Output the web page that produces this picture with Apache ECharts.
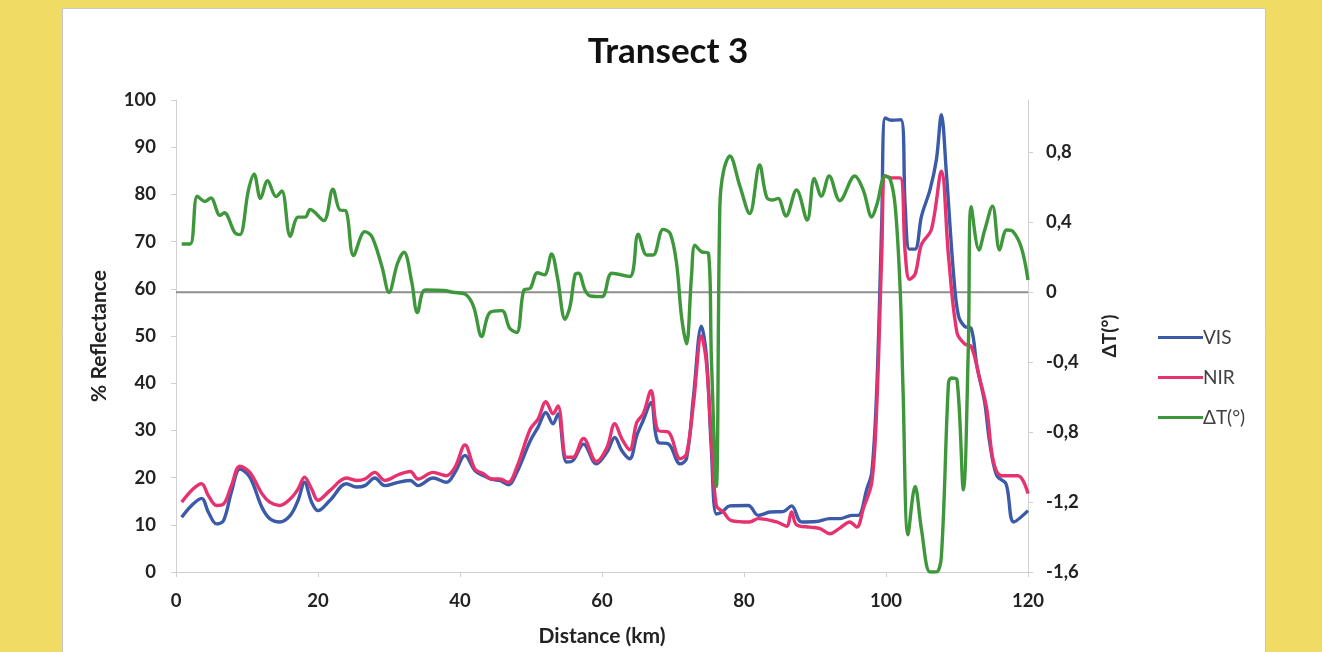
<!DOCTYPE html>
<html>
<head>
<meta charset="utf-8">
<script src="https://cdn.jsdelivr.net/npm/echarts@6/dist/echarts.min.js"></script>
<style>
html,body{margin:0;padding:0;background:#F0DC64;}
#chart{width:1322px;height:652px;}
</style>
</head>
<body>
<div id="chart"></div>
<script>
// ---- data (km, value) ----
const xTicks = [0, 20, 40, 60, 80, 100, 120];
const visData = [
[0.8,11.6],[2.2,14.1],[3.6,15.6],[4.55,12.7],[5.7,10.2],[6.7,10.9],[7.8,16.9],[9,21.8],[10.4,20.1],[12.1,13.7],[13.2,11.3],[14.6,10.6],[16.1,12],[17.2,15.2],[18.1,19],[19.1,14.8],[20,13],[21.7,15.2],[24,18.7],[25.4,18],[26.6,18.3],[28,19.9],[29.4,18.3],[31.3,19],[33,19.4],[34.1,18.3],[36.2,19.9],[38.1,19],[39.3,21.1],[40.7,24.7],[42.1,21.5],[43.3,20.4],[44.5,19.6],[45.6,19.4],[46.8,18.5],[48,21.1],[49.9,27.8],[51,30.7],[52.1,33.8],[53.1,31.4],[53.8,33.5],[55,23.3],[55.9,23.6],[57.4,27.1],[59.2,22.9],[60.7,25.4],[61.8,28.5],[62.8,25.7],[63.9,24],[64.9,28.9],[65.8,32.1],[66.9,35.9],[67.9,27.5],[69.4,27.1],[71,22.9],[71.9,24],[72.9,37.4],[74,52.1],[74.7,45.8],[75.4,26.1],[76.1,12.3],[76.9,12.7],[78,14],[80.6,14.1],[82,12],[83.7,12.7],[85.5,12.8],[86.7,14],[88.1,10.6],[90.2,10.7],[92.1,11.3],[93.5,11.3],[95.2,12],[96.1,12],[97.3,17.6],[98,21.1],[98.7,38.8],[99.4,74],[99.9,96.2],[100.8,95.7],[102.1,95.8],[102.7,77.5],[103.3,68.4],[104.1,68.4],[105,75.4],[106.2,81],[107.1,87.4],[107.8,96.9],[108.5,84.6],[109.5,63.4],[110.2,54.3],[111.1,52],[112,51.6],[112.8,43.7],[113.9,35.9],[114.6,27.5],[115.6,20.4],[116.9,18.7],[118,10.6],[120,13]
];
const nirData = [
[0.8,14.8],[2.4,17.6],[3.6,18.7],[4.55,16.2],[5.7,14.1],[6.7,14.4],[7.8,18.3],[9,22.4],[10.4,21.1],[12.1,16.6],[13.2,14.8],[14.6,14.1],[16.1,15.5],[17.2,17.6],[18.1,20.1],[19.1,17.6],[20,15.2],[21.7,17.3],[24,19.9],[25.4,19.4],[26.6,19.7],[28,21.1],[29.4,19.4],[31.3,20.6],[33,21.3],[34.1,19.7],[36.2,21.1],[38.1,20.4],[39.3,22.2],[40.7,26.9],[42.1,21.8],[43.3,20.8],[44.5,19.7],[45.6,19.7],[46.8,19],[48,22.2],[49.9,30.3],[51,32.4],[52.1,36.1],[53.1,33.5],[53.8,35.2],[55,24.3],[55.9,24.3],[57.4,28.3],[59.2,23.4],[60.7,26.4],[61.8,31.4],[62.8,28.2],[63.9,25.9],[64.9,31.7],[65.8,33.5],[66.9,38.4],[67.9,30],[69.4,29.6],[71,24],[71.9,25],[72.9,35.9],[74,50],[74.7,44.4],[75.4,28.2],[76.1,14.1],[77.1,12.7],[78.2,10.9],[80.8,10.6],[82,11.3],[84.6,10.6],[86,9.7],[86.7,12.7],[87.4,10],[89.3,9.5],[90.7,9.2],[92.1,8.1],[93.5,9.3],[94.9,10.6],[95.9,9.5],[96.8,13.4],[98,19],[98.7,35.2],[99.4,67],[99.9,83.9],[100.8,83.5],[102,83.5],[102.7,67.7],[103.3,62],[104.1,63.1],[105,69.4],[106.4,72.6],[107.8,84.9],[108.8,67],[110,50.7],[111.1,48.3],[112,47.8],[113.2,40.9],[114.2,34.5],[115.1,23.6],[116.3,20.4],[118.6,20.4],[120,16.6]
];
const dtData = [
[0.8,0.276],[2,0.276],[3,0.55],[4.1,0.52],[4.9,0.54],[6.2,0.44],[6.8,0.455],[8.3,0.34],[9,0.33],[10.2,0.585],[11,0.676],[11.9,0.537],[12.9,0.638],[14.1,0.547],[14.9,0.58],[16.1,0.32],[17.2,0.43],[18.2,0.43],[18.9,0.474],[20.8,0.41],[22.1,0.59],[23.1,0.47],[23.9,0.467],[25,0.21],[26.6,0.347],[27.6,0.318],[29,0.147],[30,0],[31.2,0.166],[32.1,0.23],[33.2,0.06],[34,-0.116],[35.1,0.013],[37.7,0.01],[39,0],[40.7,-0.01],[41.9,-0.08],[43.05,-0.253],[44.2,-0.116],[45.9,-0.105],[47,-0.206],[48,-0.23],[49,0.013],[49.9,0.023],[50.9,0.112],[51.9,0.1],[52.9,0.219],[53.7,0.09],[54.8,-0.154],[55.5,-0.08],[56.2,0.1],[56.7,0.109],[57.6,0.013],[58.3,-0.02],[60,-0.025],[61.4,0.109],[63.9,0.09],[65.1,0.333],[66.3,0.213],[67.2,0.213],[68.6,0.36],[69.6,0.337],[70.5,0.166],[71.2,-0.139],[71.9,-0.295],[72.6,0.09],[73.1,0.27],[74,0.232],[75,0.223],[75.4,-0.368],[76.1,-1.11],[76.6,0.49],[77.1,0.69],[78,0.78],[79.4,0.61],[80.8,0.45],[82.2,0.728],[83.2,0.543],[84.1,0.528],[84.8,0.537],[85.9,0.436],[87.4,0.585],[88.9,0.413],[89.9,0.651],[90.9,0.55],[92,0.665],[93.5,0.524],[95.6,0.665],[96.8,0.585],[98,0.43],[98.7,0.5],[99.9,0.665],[100.6,0.646],[101.3,0.49],[102,0.013],[102.4,-0.558],[103.1,-1.387],[104.1,-1.11],[105,-1.358],[106.2,-1.6],[107.1,-1.6],[107.8,-1.51],[108.8,-0.52],[109.2,-0.49],[110,-0.5],[110.9,-1.13],[111.6,-0.31],[112,0.49],[113.1,0.242],[113.9,0.356],[115,0.493],[116,0.242],[117,0.356],[117.9,0.347],[119.1,0.251],[120,0.07]
];
const zeroLine = [[0, 0], [120, 0]];
const seriesNames = ['VIS', 'NIR', 'ΔT(°)'];

const FONT = 'Lato, "Open Sans", sans-serif';
const chart = echarts.init(document.getElementById('chart'));
const axisCol = '#d0d0d0';
const labelStyle = {color: '#222', fontWeight: 'bold', fontSize: 18.5, fontFamily: FONT};
const nameStyle = {fontSize: 21, fontWeight: 'bold', color: '#222', fontFamily: FONT};

chart.setOption({
  backgroundColor: '#F0DC64',
  animation: false,
  graphic: [{
    type: 'rect', left: 62, top: 8, z: -10,
    shape: {width: 1203, height: 660},
    style: {fill: '#ffffff', stroke: '#c8c8c8', lineWidth: 1}
  }],
  title: {
    text: 'Transect 3', left: 663, top: 29, textAlign: 'center',
    textStyle: {fontSize: 35, fontWeight: 'bold', color: '#111', fontFamily: FONT}
  },
  legend: {
    orient: 'vertical', left: 1153, top: 323,
    data: seriesNames, icon: 'rect', itemWidth: 45, itemHeight: 3, itemGap: 21,
    textStyle: {fontSize: 19, color: '#404040', fontFamily: FONT, padding: [0, 0, 0, -5]}
  },
  grid: {left: 176, right: 294, top: 100, bottom: 79, containLabel: false},
  xAxis: {
    type: 'value', min: 0, max: 120, interval: 20,
    name: 'Distance (km)', nameLocation: 'middle', nameGap: 54,
    nameTextStyle: nameStyle,
    axisLine: {show: true, lineStyle: {color: axisCol, width: 1}},
    axisTick: {show: true, length: 5, lineStyle: {color: axisCol}},
    splitLine: {show: false},
    axisLabel: Object.assign({margin: 20}, labelStyle)
  },
  yAxis: [{
    type: 'value', min: 0, max: 100, interval: 10, position: 'left',
    name: '% Reflectance', nameLocation: 'middle', nameGap: 66, nameRotate: 90,
    nameTextStyle: nameStyle,
    axisLine: {show: true, lineStyle: {color: axisCol, width: 1}},
    axisTick: {show: true, length: 5, lineStyle: {color: axisCol}},
    splitLine: {show: false},
    axisLabel: Object.assign({margin: 20}, labelStyle)
  }, {
    type: 'value', min: -1.6, max: 1.1, interval: 0.4, position: 'right',
    name: 'ΔT(°)', nameLocation: 'middle', nameGap: 72, nameRotate: 90,
    nameTextStyle: Object.assign({}, nameStyle, {fontSize: 19}),
    axisLine: {show: true, lineStyle: {color: axisCol, width: 1}},
    axisTick: {show: true, length: 5, lineStyle: {color: axisCol}},
    splitLine: {show: false},
    axisLabel: Object.assign({
      margin: 18, showMaxLabel: false,
      formatter: v => Math.abs(v) < 1e-9 ? '0' : (Math.round(v * 10) / 10).toFixed(1).replace('.', ',')
    }, labelStyle)
  }],
  series: [{
    name: 'zero', type: 'line', yAxisIndex: 1, data: zeroLine, symbol: 'none', silent: true, z: 1,
    lineStyle: {color: '#8f8f8f', width: 2}
  }, {
    name: 'VIS', type: 'line', data: visData, symbol: 'none', smooth: 0.35, z: 2,
    itemStyle: {color: '#3B5BA8'}, lineStyle: {color: '#3B5BA8', width: 3.4}
  }, {
    name: 'NIR', type: 'line', data: nirData, symbol: 'none', smooth: 0.35, z: 3,
    itemStyle: {color: '#E6336F'}, lineStyle: {color: '#E6336F', width: 3.4}
  }, {
    name: 'ΔT(°)', type: 'line', yAxisIndex: 1, data: dtData, symbol: 'none', smooth: 0.35, z: 4,
    itemStyle: {color: '#3E973A'}, lineStyle: {color: '#3E973A', width: 3.4}
  }]
});
</script>
</body>
</html>
